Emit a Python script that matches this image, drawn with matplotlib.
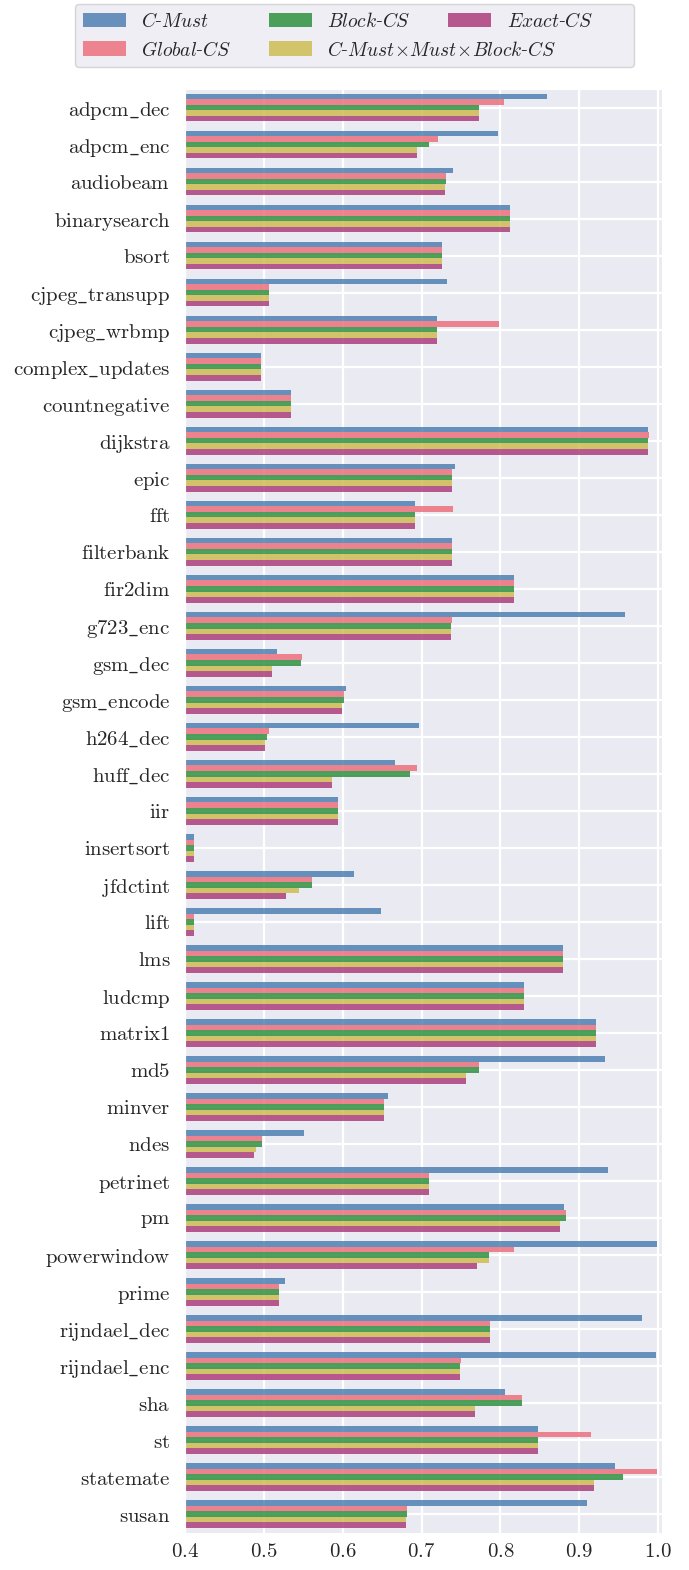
import numpy as np
import matplotlib
matplotlib.use('Agg')
import matplotlib.pyplot as plt
import seaborn as sns

# ── 데이터 ──────────────────────────────────────────────
benchmarks = ['adpcm_dec', 'adpcm_enc', 'audiobeam', 'binarysearch', 'bsort',
              'cjpeg_transupp', 'cjpeg_wrbmp', 'complex_updates', 'countnegative',
              'dijkstra', 'epic', 'fft', 'filterbank', 'fir2dim', 'g723_enc',
              'gsm_dec', 'gsm_encode', 'h264_dec', 'huff_dec', 'iir', 'insertsort',
              'jfdctint', 'lift', 'lms', 'ludcmp', 'matrix1', 'md5', 'minver',
              'ndes', 'petrinet', 'pm', 'powerwindow', 'prime', 'rijndael_dec',
              'rijndael_enc', 'sha', 'st', 'statemate', 'susan']

c_must = [0.8595, 0.7975, 0.7405, 0.8127, 0.7266, 0.7329, 0.7190, 0.4962, 0.5342,
          0.9873, 0.7430, 0.6911, 0.7392, 0.8177, 0.9582, 0.5165, 0.6038, 0.6962,
          0.6658, 0.5937, 0.4114, 0.6139, 0.6481, 0.8797, 0.8304, 0.9215, 0.9329,
          0.6570, 0.5506, 0.9367, 0.8810, 0.9987, 0.5266, 0.9797, 0.9975, 0.8063,
          0.8481, 0.9456, 0.9101]
global_cs = [0.8050, 0.7215, 0.7316, 0.8127, 0.7266, 0.5063, 0.7987, 0.4962, 0.5342,
             0.9886, 0.7392, 0.7405, 0.7392, 0.8177, 0.7392, 0.5481, 0.6013, 0.5063,
             0.6937, 0.5937, 0.4114, 0.5608, 0.4114, 0.8797, 0.8304, 0.9215, 0.7734,
             0.6519, 0.4975, 0.7089, 0.8835, 0.8177, 0.5190, 0.7873, 0.7506, 0.8278,
             0.9152, 0.9987, 0.6810]
block_cs = [0.7734, 0.7089, 0.7316, 0.8127, 0.7266, 0.5063, 0.7190, 0.4962, 0.5342,
            0.9873, 0.7392, 0.6911, 0.7392, 0.8177, 0.7380, 0.5468, 0.6013, 0.5038,
            0.6848, 0.5937, 0.4114, 0.5608, 0.4114, 0.8797, 0.8304, 0.9215, 0.7734,
            0.6519, 0.4975, 0.7089, 0.8835, 0.7861, 0.5190, 0.7873, 0.7494, 0.8278,
            0.8481, 0.9557, 0.6810]
combo_cs = [0.7734, 0.6937, 0.7304, 0.8127, 0.7266, 0.5063, 0.7190, 0.4962, 0.5342,
            0.9873, 0.7392, 0.6911, 0.7392, 0.8177, 0.7380, 0.5101, 0.5987, 0.5013,
            0.5861, 0.5937, 0.4114, 0.5443, 0.4114, 0.8797, 0.8304, 0.9215, 0.7570,
            0.6519, 0.4899, 0.7089, 0.8759, 0.7861, 0.5190, 0.7873, 0.7494, 0.7684,
            0.8481, 0.9190, 0.6797]
exact_cs = [0.7734, 0.6937, 0.7304, 0.8127, 0.7266, 0.5063, 0.7190, 0.4962, 0.5342,
            0.9873, 0.7392, 0.6911, 0.7392, 0.8177, 0.7380, 0.5101, 0.5987, 0.5013,
            0.5861, 0.5937, 0.4114, 0.5278, 0.4114, 0.8797, 0.8304, 0.9215, 0.7570,
            0.6519, 0.4873, 0.7089, 0.8759, 0.7709, 0.5190, 0.7873, 0.7494, 0.7684,
            0.8481, 0.9190, 0.6797]

series_labels = [r'$\mathit{C}$-$\mathit{Must}$',
                 r'$\mathit{Global}$-$\mathit{CS}$',
                 r'$\mathit{Block}$-$\mathit{CS}$',
                 r'$\mathit{C}$-$\mathit{Must}\!\times\!\mathit{Must}\!\times\!\mathit{Block}$-$\mathit{CS}$',
                 r'$\mathit{Exact}$-$\mathit{CS}$']
series_colors = ['#4f81b3', '#ec707c', '#2e913f', '#cebd52', '#ac3e7c']

# ── 스타일 ──────────────────────────────────────────────
sns.set_style('darkgrid')
plt.rcParams['mathtext.fontset'] = 'cm'
plt.rcParams['font.family'] = ['DejaVu Serif']

W, H = 689, 1570
fig = plt.figure(figsize=(W / 100, H / 100), dpi=100)
ax = fig.add_axes([0.2685, 0.0238, 0.6923, 0.9195])

all_series = [c_must, global_cs, block_cs, combo_cs, exact_cs]
n_series = len(all_series)
bar_h = 0.15
y = np.arange(len(benchmarks))

handles = []
for k, (vals, lab, col) in enumerate(zip(all_series, series_labels, series_colors)):
    h = ax.barh(y + (k - (n_series - 1) / 2) * bar_h, vals, height=bar_h,
                color=col, alpha=0.85, linewidth=0, label=lab, zorder=2)
    handles.append(h)

ax.set_yticks(y)
ax.set_yticklabels([r'$\mathrm{' + b.replace('_', r'\_') + '}$' for b in benchmarks],
                   fontsize=15)
ax.set_ylim(len(benchmarks) - 0.5, -0.5)
ax.set_xlim(0.4, 1.005)
ax.set_xticks([0.4, 0.5, 0.6, 0.7, 0.8, 0.9, 1.0])
ax.xaxis.set_major_formatter(plt.FuncFormatter(lambda v, _: f'${v:.1f}$'))
ax.tick_params(axis='x', labelsize=15)
ax.tick_params(axis='y', pad=7)
ax.grid(True, color='white', linewidth=1.6, zorder=0)
ax.set_axisbelow(True)

# ── 범례 ────────────────────────────────────────────────
# 원본은 긴 라벨이 옆 열 밑으로 뻗어 있음: 자리표시 라벨로 열 간격을 맞춘 뒤
# 실제 라벨을 그 위치에 덧씌움
LEG_FS = 14
em_px = LEG_FS * 100 / 72
target_d12, target_d23 = 186, 179     # 열 핸들 간 간격(px)
leg_labels = list(series_labels)
leg_labels[3] = r'$\mathit{Block}$-$\mathit{CS}$'
leg_labels[4] = r'$\mathit{Exact}$-$\mathit{CSmm}$'


def make_legend(cs, ph_size):
    lg = fig.legend(handles=handles, labels=leg_labels, loc='upper left',
                    bbox_to_anchor=(75 / W, 1 - 4 / H), borderaxespad=0,
                    ncol=3, fontsize=LEG_FS, handlelength=2.2, handleheight=0.8,
                    columnspacing=cs, frameon=True, facecolor='#EAEAF2',
                    edgecolor='#cccccc')
    lg.get_texts()[3].set_fontsize(ph_size)
    fig.canvas.draw()
    hx = [hd.get_window_extent().x0 for hd in lg.legend_handles]
    return lg, hx[2] - hx[0], hx[4] - hx[2]


cs, ph = 2.0, LEG_FS
leg, d12, d23 = make_legend(cs, ph)
for _ in range(3):
    ph_w = leg.get_texts()[3].get_window_extent().width
    cs += (target_d12 - d12) / em_px
    ph = ph * max(ph_w + (target_d23 - d23) - (target_d12 - d12), 5) / ph_w
    leg.remove()
    leg, d12, d23 = make_legend(cs, ph)

texts = leg.get_texts()
for idx, row_ref in [(3, 1), (4, 0)]:
    bb = texts[idx].get_window_extent()
    base = texts[row_ref].get_window_extent().y0
    texts[idx].set_alpha(0)
    fig.text(bb.x0 / W, base / H, series_labels[idx], fontsize=LEG_FS,
             color=texts[idx].get_color(), ha='left', va='bottom', zorder=10)

plt.savefig('out.png', dpi=100)
plt.close()
